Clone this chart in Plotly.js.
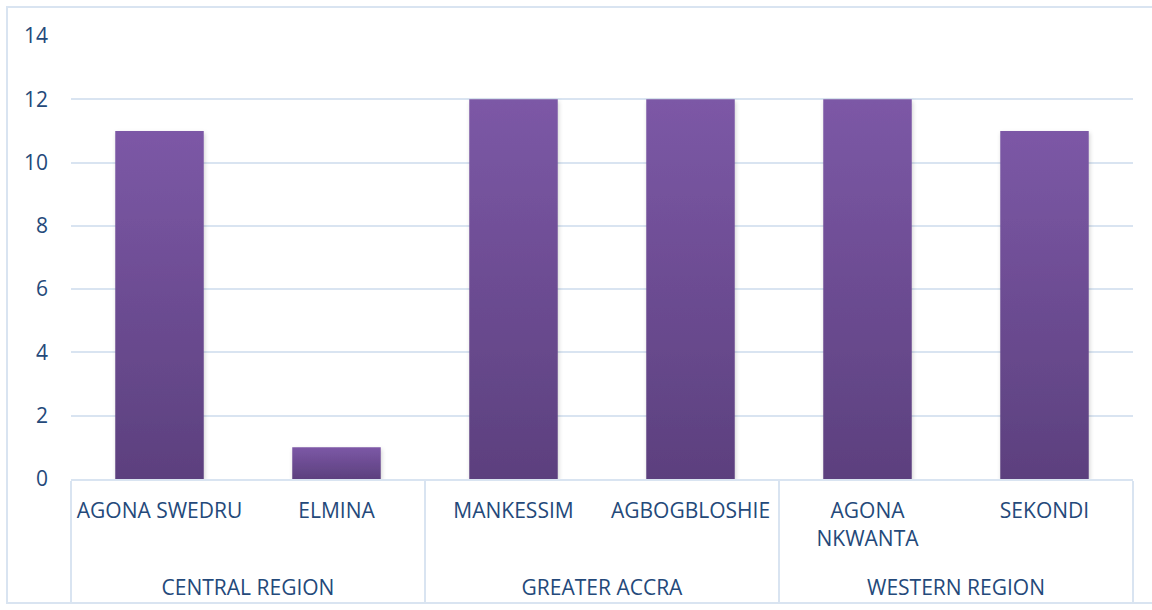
<!DOCTYPE html>
<html>
<head>
<meta charset="utf-8">
<script src="https://cdn.plot.ly/plotly-3.0.1.min.js"></script>
<style>
  html, body { margin: 0; padding: 0; background: #ffffff; }
  #chart { width: 1152px; height: 610px; }
</style>
</head>
<body>
<div id="chart"></div>
<script>
// ---- data ----
const regions = ["CENTRAL REGION", "CENTRAL REGION", "GREATER ACCRA", "GREATER ACCRA", "WESTERN REGION", "WESTERN REGION"];
const sites = ["AGONA SWEDRU", "ELMINA", "MANKESSIM", "AGBOGBLOSHIE", "AGONA<br>NKWANTA", "SEKONDI"];
const counts = [11, 1, 12, 12, 12, 11];
const yTicks = [0, 2, 4, 6, 8, 10, 12, 14];

// ---- style ----
const textColor = "#24497A";
const gridColor = "#D9E4F1";
const fontFamily = "'Open Sans', sans-serif";

// layout geometry (pixels)
const W = 1152, H = 610;
const mL = 71, mR = 19, mT = 36, mB = 131;
const pw = W - mL - mR, ph = H - mT - mB;
const frameBottom = 603;
const groupLabelShift = 32;

const trace = {
  type: "bar",
  x: [regions, sites],
  y: counts,
  width: 0.5,
  marker: { color: "#6C4D92", line: { width: 0 } },
  hoverinfo: "none"
};

const layout = {
  width: W, height: H,
  margin: { l: mL, r: mR, t: mT, b: mB, pad: 0 },
  paper_bgcolor: "#ffffff",
  plot_bgcolor: "#ffffff",
  showlegend: false,
  font: { family: fontFamily, size: 21, color: textColor },
  bargap: 0.5,
  xaxis: {
    type: "multicategory",
    showgrid: false,
    showline: true,
    linecolor: gridColor,
    linewidth: 2,
    showdividers: true,
    dividercolor: gridColor,
    dividerwidth: 2,
    ticks: "",
    ticklabelstandoff: 12,
    tickfont: { family: fontFamily, size: 21, color: textColor },
    zeroline: false
  },
  yaxis: {
    range: [0, 14],
    tickvals: yTicks,
    ticktext: yTicks.map(String),
    showgrid: true,
    gridcolor: gridColor,
    gridwidth: 2,
    zeroline: false,
    showline: false,
    ticks: "",
    ticklabelstandoff: 22,
    tickfont: { family: fontFamily, size: 21, color: textColor }
  },
  shapes: [{
    type: "rect", xref: "paper", yref: "paper",
    x0: (7 - mL) / pw, x1: (1160 - mL) / pw,
    y0: (mT + ph - frameBottom) / ph, y1: 1 + (mT - 7) / ph,
    line: { color: gridColor, width: 2 }, fillcolor: "rgba(0,0,0,0)", layer: "below"
  }]
};

Plotly.newPlot("chart", [trace], layout, { staticPlot: true, displayModeBar: false }).then(function (gd) {
  const svgNS = "http://www.w3.org/2000/svg";
  const svg = gd.querySelector("svg.main-svg");
  let defs = svg.querySelector("defs");
  if (!defs) { defs = document.createElementNS(svgNS, "defs"); svg.insertBefore(defs, svg.firstChild); }
  const grad = document.createElementNS(svgNS, "linearGradient");
  grad.setAttribute("id", "barGrad");
  grad.setAttribute("x1", "0"); grad.setAttribute("y1", "0");
  grad.setAttribute("x2", "0"); grad.setAttribute("y2", "1");
  [["0", "#7C58A6"], ["1", "#5C407E"]].forEach(function (s) {
    const st = document.createElementNS(svgNS, "stop");
    st.setAttribute("offset", s[0]); st.setAttribute("stop-color", s[1]);
    grad.appendChild(st);
  });
  defs.appendChild(grad);
  const filt = document.createElementNS(svgNS, "filter");
  filt.setAttribute("id", "barShadow");
  filt.setAttribute("x", "-10%"); filt.setAttribute("y", "-10%");
  filt.setAttribute("width", "130%"); filt.setAttribute("height", "130%");
  const ds = document.createElementNS(svgNS, "feDropShadow");
  ds.setAttribute("dx", "1"); ds.setAttribute("dy", "2"); ds.setAttribute("stdDeviation", "2");
  ds.setAttribute("flood-color", "#000"); ds.setAttribute("flood-opacity", "0.18");
  filt.appendChild(ds);
  defs.appendChild(filt);
  gd.querySelectorAll(".barlayer .point path").forEach(function (p) {
    p.style.fill = "url(#barGrad)";
    p.setAttribute("filter", "url(#barShadow)");
  });

  // push the group (region) labels lower, as in the reference
  gd.querySelectorAll("g.xtick2 text").forEach(function (t) {
    const tr = t.getAttribute("transform") || "";
    t.setAttribute("transform", tr + " translate(0," + groupLabelShift + ")");
  });
  // extend the group dividers down to the frame
  const top = gd.getBoundingClientRect().top;
  gd.querySelectorAll("path.xdivider").forEach(function (p) {
    const r = p.getBoundingClientRect();
    const len = frameBottom - (r.top - top);
    const d = p.getAttribute("d");
    p.setAttribute("d", d.replace(/v[-\d.eE]+/, "v" + len));
  });
});
</script>
</body>
</html>
